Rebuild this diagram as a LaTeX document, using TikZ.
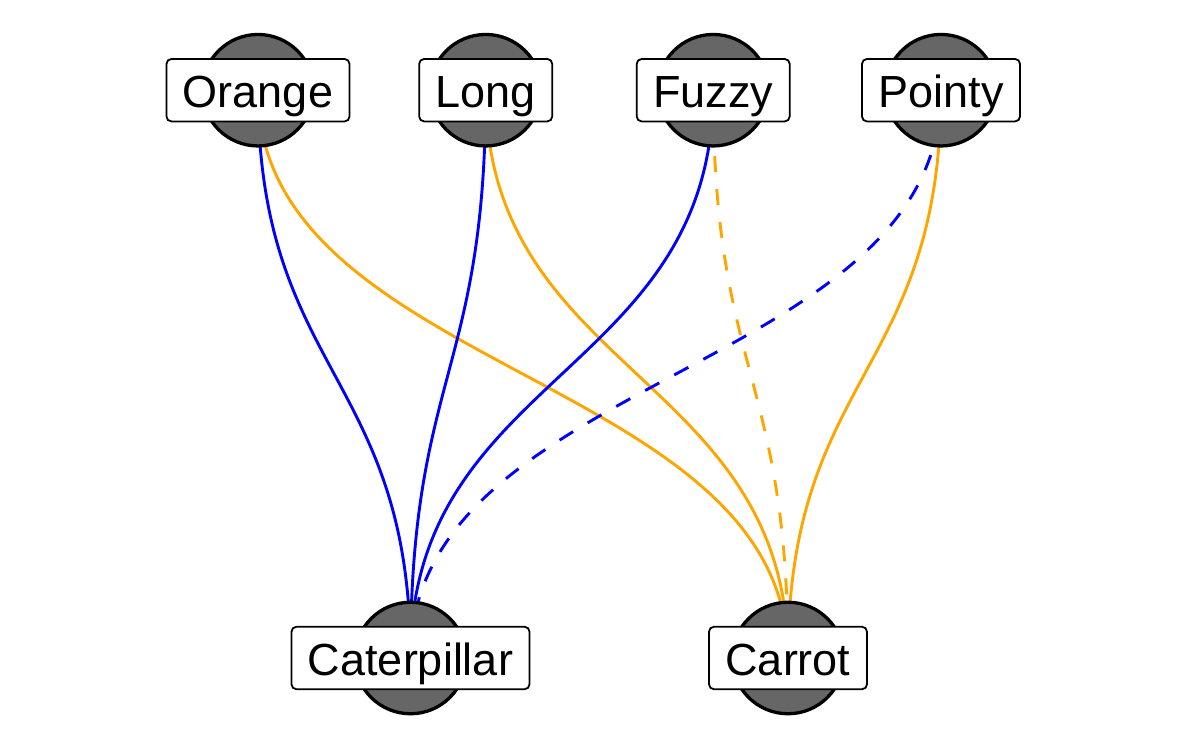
\documentclass[tikz,border=0pt]{standalone}
\usepackage{fontspec}
\setmainfont{Liberation Sans}
\usetikzlibrary{backgrounds}

\begin{document}
\begin{tikzpicture}[x=1pt,y=-1pt]
% Colors
\colorlet{vertexcolor}{black!60}
\colorlet{catcolor}{blue}
\definecolor{carcolor}{HTML}{FFA500}
% Styles
\tikzstyle{vertex}=[circle,draw=black,line width=3.3pt,fill=vertexcolor,minimum size=111.5pt,inner sep=0pt]
\tikzstyle{tag}=[rectangle,draw=black,line width=1.8pt,fill=white,rounded corners=5pt,inner xsep=16.5pt,inner ysep=4pt,text height=44.8pt,text depth=9.7pt,font=\fontsize{45}{54}\selectfont]
\tikzstyle{edge}=[line width=2.9pt]
\tikzstyle{maybe}=[dash pattern=on 16pt off 17pt]
% The graphic
\useasboundingbox (0,0) rectangle (1200,750);
\coordinate (mid) at (599.2,374.1);
% Features
\foreach \name/\xpos/\word in {orange/258/Orange,long/485.7/Long,fuzzy/713.2/Fuzzy,pointy/941/Pointy}
{
\node[vertex] (\name) at (\xpos,90.2) {};
\node[tag] (\name-tag) at (\name) {\word};
}
% Things
\foreach \name/\xpos/\word in {caterpillar/410.5/Caterpillar,carrot/788/Carrot}
{
\node[vertex] (\name) at (\xpos,658) {};
\node[tag] (\name-tag) at (\name) {\word};
}
% Links, behind the vertices
\begin{scope}[on background layer]
\foreach \from/\kind in {orange/solid,long/solid,fuzzy/maybe,pointy/solid}
\draw[edge,\kind,carcolor] (\from.center) .. controls (\from.center |- mid) and (carrot.center |- mid) .. (carrot.center);
\foreach \from/\kind in {orange/solid,long/solid,fuzzy/solid,pointy/maybe}
\draw[edge,\kind,catcolor] (\from.center) .. controls (\from.center |- mid) and (caterpillar.center |- mid) .. (caterpillar.center);
\end{scope}
\end{tikzpicture}
\end{document}
